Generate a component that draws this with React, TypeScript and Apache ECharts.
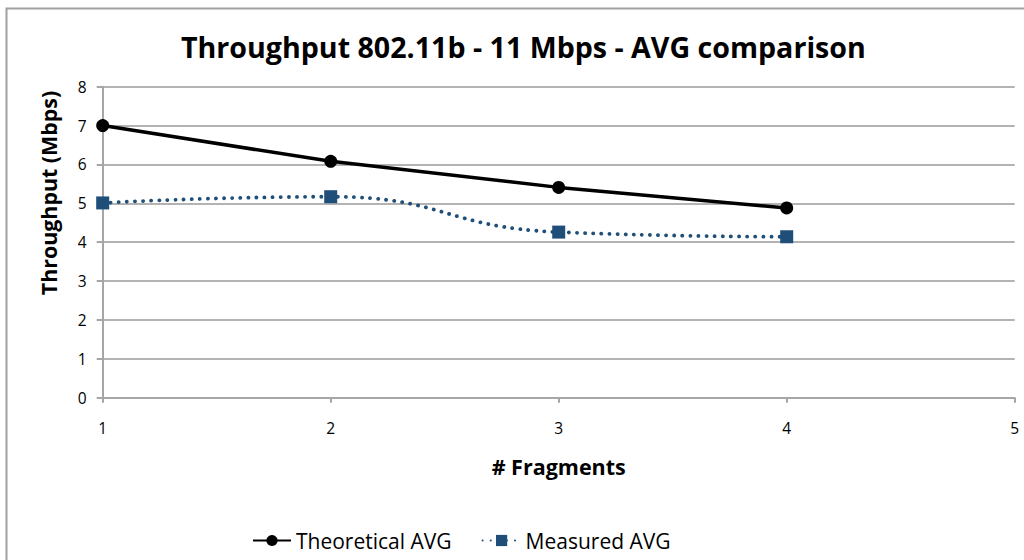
import React, { useEffect, useRef } from "react";
import * as echarts from "echarts";

const fragments = [1, 2, 3, 4];
const theoreticalAvg = [7.0, 6.08, 5.41, 4.88];
const measuredAvg = [5.01, 5.17, 4.26, 4.14];
const yTicks = [0, 1, 2, 3, 4, 5, 6, 7, 8];

const FONT = "'Open Sans', sans-serif";
const GRID_GRAY = "#a6a6a6";

export default function App() {
  const ref = useRef<HTMLDivElement>(null);

  useEffect(() => {
    if (!ref.current) return;
    const chart = echarts.init(ref.current, undefined, { renderer: "svg" });
    chart.setOption({
      animation: false,
      backgroundColor: "#ffffff",
      textStyle: { fontFamily: FONT },
      title: {
        text: "Throughput 802.11b - 11 Mbps - AVG comparison",
        left: 176,
        top: 27,
        textStyle: { fontFamily: FONT, fontSize: 28.6, fontWeight: "bold", color: "#000" },
      },
      legend: {
        bottom: 4,
        left: 247,
        itemGap: 30,
        itemWidth: 38,
        itemHeight: 14,
        textStyle: { fontFamily: FONT, fontSize: 21, color: "#000" },
        data: ["Theoretical AVG", "Measured AVG"],
      },
      grid: { left: 102.7, right: 9.3, top: 86.7, bottom: 162.3 },
      xAxis: {
        type: "value",
        min: 1,
        max: 5,
        interval: 1,
        name: "# Fragments",
        nameLocation: "middle",
        nameGap: 58,
        nameTextStyle: { fontFamily: FONT, fontSize: 21.5, fontWeight: "bold", color: "#000" },
        axisLine: { lineStyle: { color: GRID_GRAY, width: 2 } },
        axisTick: { show: true, length: 5, lineStyle: { color: GRID_GRAY, width: 2 } },
        axisLabel: { margin: 22, fontSize: 15.5, color: "#000", fontFamily: FONT },
        splitLine: { show: false },
      },
      yAxis: {
        type: "value",
        min: yTicks[0],
        max: yTicks[yTicks.length - 1],
        interval: 1,
        axisLine: { show: true, lineStyle: { color: GRID_GRAY, width: 2 } },
        axisTick: { show: true, length: 6, lineStyle: { color: GRID_GRAY, width: 2 } },
        axisLabel: { margin: 16, fontSize: 15.5, color: "#000", fontFamily: FONT },
        splitLine: { lineStyle: { color: "#b3b3b3", width: 2 } },
      },
      graphic: [
        {
          type: "rect",
          silent: true,
          shape: { x: 6.5, y: 8.5, width: 1100, height: 700 },
          style: { fill: "none", stroke: "#a0a0a0", lineWidth: 2 },
        },
        {
          type: "text",
          x: 48,
          y: 193,
          rotation: Math.PI / 2,
          style: {
            text: "Throughput (Mbps)",
            font: `bold 21.4px ${FONT}`,
            fill: "#000",
            align: "center",
            verticalAlign: "middle",
          },
        },
      ],
      series: [
        {
          name: "Theoretical AVG",
          type: "line",
          data: fragments.map((f, i) => [f, theoreticalAvg[i]]),
          symbol: "circle",
          symbolSize: 13,
          itemStyle: { color: "#000" },
          lineStyle: { color: "#000", width: 3.5 },
        },
        {
          name: "Measured AVG",
          type: "line",
          data: fragments.map((f, i) => [f, measuredAvg[i]]),
          smooth: 0.5,
          symbol: "rect",
          symbolSize: 13,
          itemStyle: { color: "#1f4e79" },
          lineStyle: { color: "#1f4e79", width: 3.8, type: [0.1, 8], cap: "round" },
        },
      ],
    });
    return () => chart.dispose();
  }, []);

  return (
    <div
      ref={ref}
      style={{ position: "fixed", left: 0, top: 0, width: 1024, height: 560 }}
    />
  );
}
